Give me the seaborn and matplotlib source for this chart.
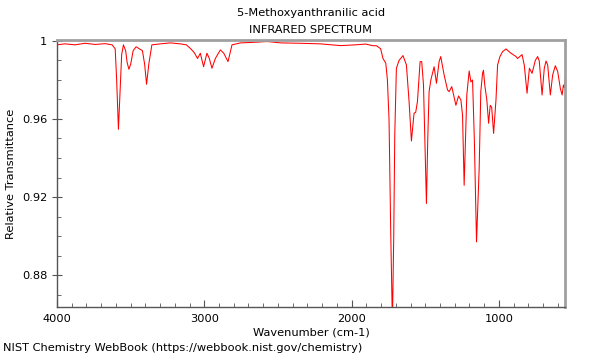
import numpy as np
import pandas as pd
import seaborn as sns
import matplotlib.pyplot as plt
from matplotlib.ticker import MultipleLocator, FixedLocator, FixedFormatter

# Spectrum (wavenumber in cm-1, relative transmittance)
wavenumber = [4000, 3946, 3878, 3810, 3741, 3673, 3626, 3605, 3595, 3583, 3571, 3561,
              3549, 3534, 3524, 3512, 3500, 3483, 3463, 3442, 3420, 3405, 3392, 3377,
              3356, 3299, 3231, 3163, 3122, 3095, 3068, 3046, 3027, 3005, 2982, 2966,
              2948, 2925, 2891, 2868, 2839, 2812, 2755, 2687, 2573, 2483, 2347, 2211,
              2075, 1973, 1905, 1859, 1830, 1803, 1787, 1768, 1757, 1746, 1734, 1723,
              1714, 1707, 1696, 1678, 1651, 1628, 1610, 1594, 1576, 1565, 1553, 1535,
              1524, 1512, 1501, 1492, 1483, 1474, 1462, 1440, 1424, 1406, 1395, 1372,
              1349, 1338, 1320, 1292, 1274, 1258, 1247, 1236, 1218, 1202, 1190, 1179,
              1167, 1152, 1134, 1123, 1111, 1105, 1096, 1082, 1070, 1059, 1049, 1036,
              1020, 1009, 993, 975, 952, 918, 884, 873, 843, 828, 809, 793, 775, 753,
              737, 726, 707, 692, 680, 669, 651, 635, 617, 601, 583, 571, 562, 556, 550]
transmittance = [0.998, 0.9985, 0.998, 0.9988, 0.9982, 0.9986, 0.998, 0.996, 0.980, 0.9547, 0.975, 0.993,
                 0.998, 0.995, 0.989, 0.9855, 0.988, 0.995, 0.997, 0.996, 0.995, 0.988, 0.9778, 0.988,
                 0.998, 0.9985, 0.999, 0.9985, 0.998, 0.9962, 0.994, 0.991, 0.9937, 0.9868, 0.9937, 0.991,
                 0.986, 0.991, 0.9954, 0.9937, 0.9894, 0.998, 0.999, 0.9992, 0.9997, 0.999, 0.9988, 0.9985,
                 0.9976, 0.998, 0.9984, 0.9976, 0.9975, 0.996, 0.991, 0.9886, 0.980, 0.960, 0.900, 0.855,
                 0.900, 0.952, 0.986, 0.990, 0.9925, 0.9877, 0.969, 0.9487, 0.963, 0.9634, 0.969, 0.9894,
                 0.9894, 0.9774, 0.945, 0.9167, 0.950, 0.974, 0.980, 0.9868, 0.9783, 0.9894, 0.992, 0.9826,
                 0.9749, 0.974, 0.9766, 0.967, 0.9718, 0.9697, 0.962, 0.926, 0.9723, 0.9846, 0.979, 0.980,
                 0.950, 0.897, 0.9347, 0.974, 0.9834, 0.985, 0.9774, 0.9697, 0.9578, 0.967, 0.966, 0.9526,
                 0.9697, 0.9877, 0.992, 0.9945, 0.9959, 0.9937, 0.992, 0.991, 0.993, 0.9877, 0.9732, 0.986, 0.9834, 0.990,
                 0.992, 0.9897, 0.9723, 0.986, 0.9897, 0.9877, 0.9723, 0.9826, 0.9873, 0.9843, 0.9757, 0.9723, 0.9774, 0.976, 0.981]

y_ticks = [1.0, 0.96, 0.92, 0.88]
y_tick_labels = ["1", "0.96", "0.92", "0.88"]

df = pd.DataFrame({"wn": wavenumber, "T": transmittance})

sns.set_style("ticks")
plt.rcParams["font.family"] = ["DejaVu Sans"]
plt.rcParams["text.color"] = "black"
plt.rcParams["axes.labelcolor"] = "black"
plt.rcParams["xtick.labelcolor"] = "black"
plt.rcParams["ytick.labelcolor"] = "black"
fs = 8.2

fig = plt.figure(figsize=(6, 3.6), dpi=100)
ax = fig.add_axes([0.095, 0.147, 0.847, 0.742])

sns.lineplot(data=df, x="wn", y="T", color="red", linewidth=0.75, ax=ax)

ax.set_xlim(4000, 550)
ax.set_ylim(0.8636, 1.0005)

ax.xaxis.set_major_locator(MultipleLocator(1000))
ax.xaxis.set_minor_locator(MultipleLocator(100))
ax.yaxis.set_major_locator(FixedLocator(y_ticks))
ax.yaxis.set_major_formatter(FixedFormatter(y_tick_labels))
ax.yaxis.set_minor_locator(MultipleLocator(0.01))
ax.tick_params(axis="x", which="major", direction="in", length=5, pad=5, labelsize=fs, color="#555555")
ax.tick_params(axis="x", which="minor", direction="in", length=3, color="#555555")
ax.tick_params(axis="y", which="major", direction="inout", length=7, labelsize=fs, color="#555555")
ax.tick_params(axis="y", which="minor", direction="in", length=3, color="#555555")

for s in ax.spines.values():
    s.set_color("#a0a0a0")
    s.set_linewidth(2)
ax.spines["left"].set_color("#555555")
ax.spines["left"].set_linewidth(1)
ax.spines["bottom"].set_color("#555555")
ax.spines["bottom"].set_linewidth(1)

ax.set_xlabel("Wavenumber (cm-1)", fontsize=fs, labelpad=2.5)
ax.set_ylabel("Relative Transmittance", fontsize=fs, labelpad=4)

fig.text(0.518, 0.963, "5-Methoxyanthranilic acid", ha="center", va="center", fontsize=fs)
fig.text(0.518, 0.916, "INFRARED SPECTRUM", ha="center", va="center", fontsize=fs)
fig.text(0.005, 0.02, "NIST Chemistry WebBook (https://webbook.nist.gov/chemistry)",
         ha="left", va="bottom", fontsize=fs)

plt.savefig("out.png", dpi=100)
